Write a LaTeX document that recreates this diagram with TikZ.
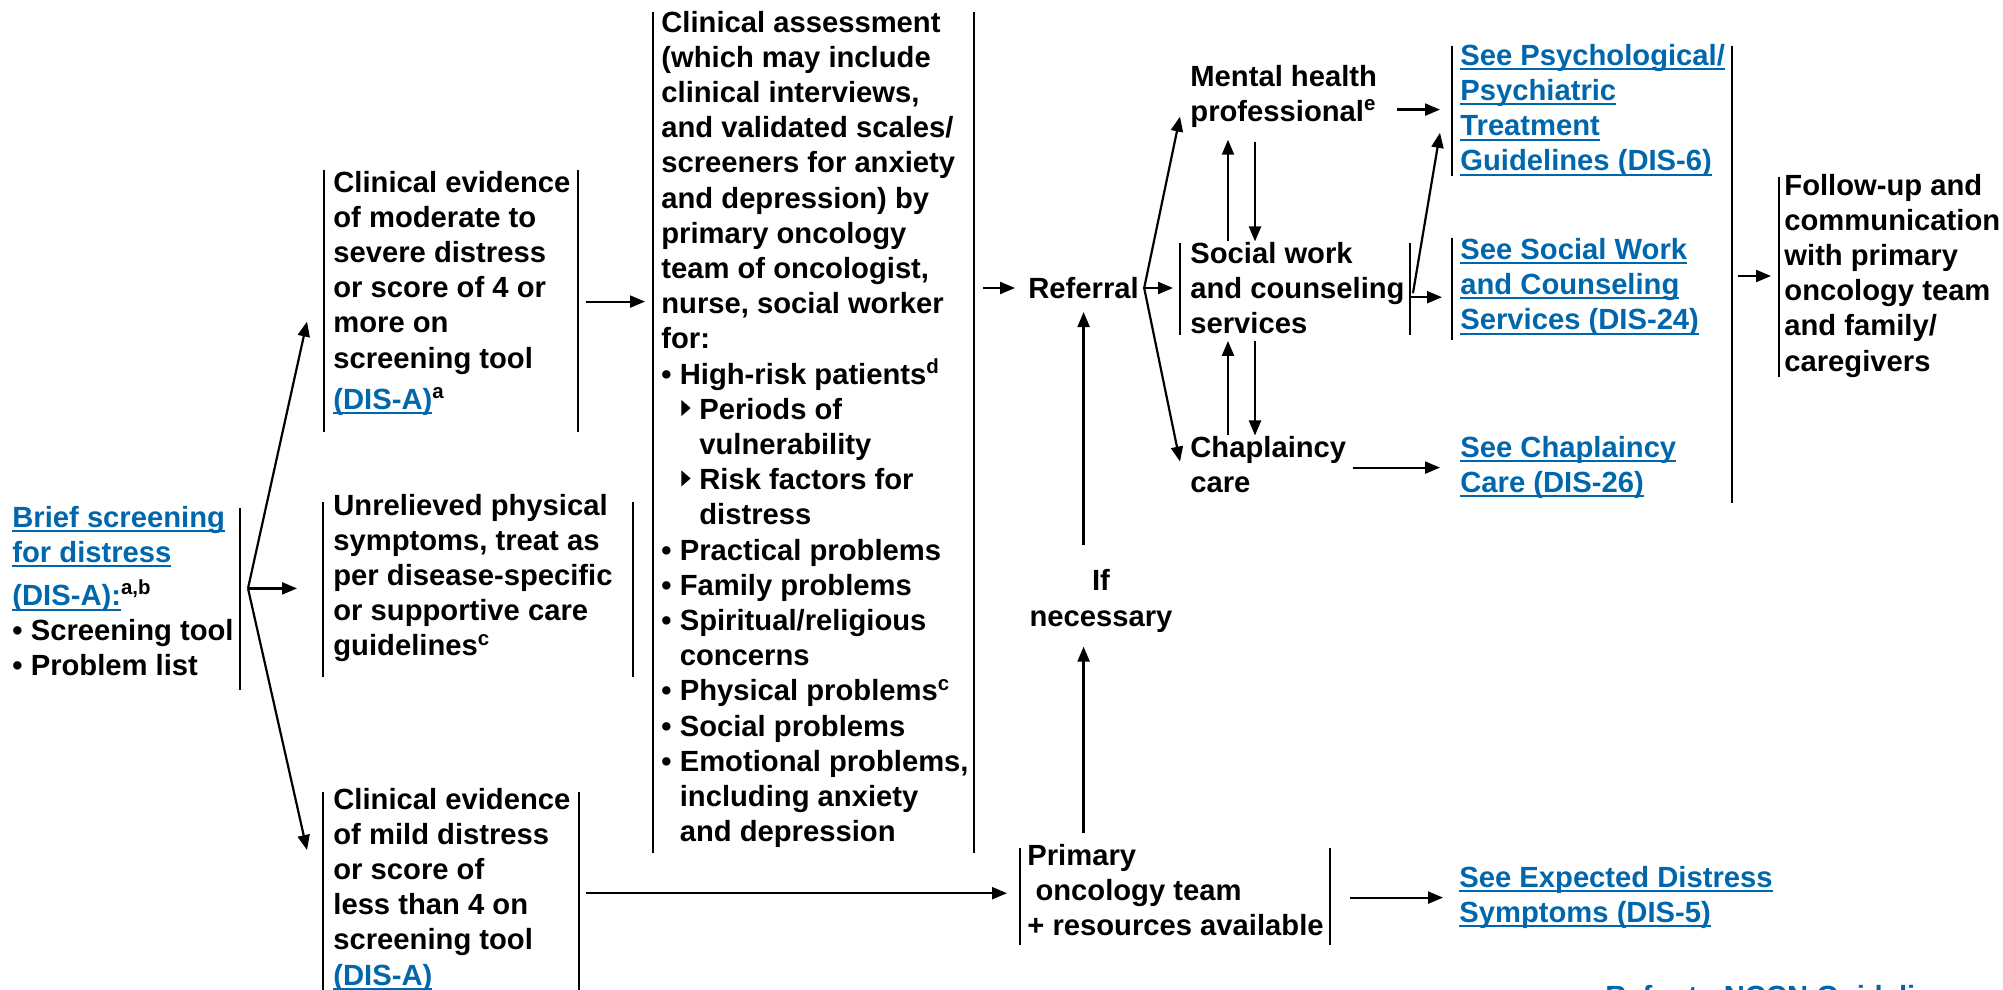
\documentclass[tikz,border=0pt]{standalone}
\usepackage{fontspec}
\setmainfont{Liberation Sans}
\usetikzlibrary{arrows.meta}
\usetikzlibrary{calc}

\definecolor{linkblue}{RGB}{0,103,172}
\newsavebox{\lnkbox}
\newsavebox{\tribox}
\newcommand{\lnk}[1]{\textcolor{linkblue}{\sbox{\lnkbox}{#1}\rlap{\rule[-2.6pt]{\wd\lnkbox}{1pt}}\usebox{\lnkbox}}}
\newcommand{\bstrut}{\rule[-3.55pt]{0pt}{17.6pt}}
\newcommand{\bul}{\makebox[9.2pt][l]{\textbullet}}
\newcommand{\tri}{\makebox[19pt][l]{\hspace{10pt}\raisebox{1.6pt}{\usebox{\tribox}}}}
\newcommand{\ina}{\hspace*{9.2pt}}
\newcommand{\inb}{\hspace*{19pt}}

\begin{document}
\sbox{\tribox}{\begin{pgfpicture}\pgfpathmoveto{\pgfpoint{0pt}{0pt}}\pgfpathlineto{\pgfpoint{4.6pt}{4pt}}\pgfpathlineto{\pgfpoint{0pt}{8pt}}\pgfpathclose\pgfusepath{fill}\end{pgfpicture}}
\begin{tikzpicture}[x=0.5pt, y=-0.5pt,
  txt/.style={align=left, anchor=west, inner sep=0pt,
    font=\bfseries\fontsize{14.6}{17.6}\selectfont,
    execute at begin node=\bstrut, execute at end node=\bstrut},
  bar/.style={line width=1.4pt},
  arr/.style={line width=1.1pt, >={Triangle[length=7.5pt,width=6pt]}, ->}]
\useasboundingbox (0,0) rectangle (2003,990);

% screening and the three outcomes
\node[txt] (screen) at (12,594.4) {\lnk{Brief screening}\\\lnk{for distress}\\[4pt]\lnk{(DIS-A):}\textsuperscript{a,b}\\\bul Screening tool\\\bul Problem list};
\node[txt] (mod) at (333,293.6) {Clinical evidence\\of moderate to\\severe distress\\or score of 4 or\\more on\\screening tool\\[3pt]\lnk{(DIS-A)}\textsuperscript{a}};
\node[txt] (phys) at (333,578.4) {Unrelieved physical\\symptoms, treat as\\per disease-specific\\or supportive care\\guidelines\textsuperscript{c}};
\node[txt] (mild) at (333,890) {Clinical evidence\\of mild distress\\or score of\\less than 4 on\\screening tool\\\lnk{(DIS-A)}};

\node[txt] (assess) at (661,429.8) {Clinical assessment\\(which may include\\clinical interviews,\\and validated scales/\\screeners for anxiety\\and depression) by\\primary oncology\\team of oncologist,\\nurse, social worker\\for:\\\bul High-risk patients\textsuperscript{d}\\\tri Periods of\\\inb vulnerability\\\tri Risk factors for\\\inb distress\\\bul Practical problems\\\bul Family problems\\\bul Spiritual/religious\\\ina concerns\\\bul Physical problems\textsuperscript{c}\\\bul Social problems\\\bul Emotional problems,\\\ina including anxiety\\\ina and depression};

% referral and services
\node[txt] (referral) at (1028,288) {Referral};
\node[txt] (mental) at (1190,96.6) {Mental health\\professional\textsuperscript{e}};
\node[txt] (social) at (1190,291.2) {Social work\\and counseling\\services};
\node[txt] (chap) at (1190,467.6) {Chaplaincy\\care};
\node[txt] (psych) at (1460,110.8) {\lnk{See Psychological/}\\\lnk{Psychiatric}\\\lnk{Treatment}\\\lnk{Guidelines (DIS-6)}};
\node[txt] (swlink) at (1460,287.2) {\lnk{See Social Work}\\\lnk{and Counseling}\\\lnk{Services (DIS-24)}};
\node[txt] (chlink) at (1460,467.6) {\lnk{See Chaplaincy}\\\lnk{Care (DIS-26)}};
\node[txt] (follow) at (1784,276) {Follow-up and\\communication\\with primary\\oncology team\\and family/\\caregivers};

% primary team
\node[txt, align=center, anchor=center] (ifnec) at (1101,601.5) {If\\necessary};
\node[txt] (primary) at (1027,893.2) {Primary\\\hspace*{0.278em}oncology team\\+ resources available};
\node[txt] (expected) at (1459,897.6) {\lnk{See Expected Distress}\\\lnk{Symptoms (DIS-5)}};
\node[txt] (nccn) at (1605,995.5) {\lnk{Refer to NCCN Guidelines}};

% side bars
\foreach \x/\ya/\yb in {240/508/690, 324/170/432, 578/170/432, 323/502/677, 633/502/677,
  323/792/1000, 579/792/1000, 653/12/853, 974/12/853, 1180/243/335, 1410/243/335,
  1452/46/176, 1452/238/340, 1779/177/377, 1020/848/945, 1330/848/945}
  \draw[bar] (\x,\ya) -- (\x,\yb);
\draw[bar] (1732,46) coordinate (outbar) -- (1732,503);

% arrows
\coordinate (fanA) at ([shift={(14,-6)}]screen.east);
\draw[arr] (fanA) -- ([shift={(-26,28)}]mod.west);
\draw[arr, shorten >=18pt] (fanA) -- (fanA -| phys.west);
\draw[arr] (fanA) -- ([shift={(-26,-40)}]mild.west);

\coordinate (modout) at ([shift={(15,8)}]mod.east);
\draw[arr, shorten >=8pt] (modout) -- (modout -| assess.west);
\draw[arr, shorten <=7.5pt, shorten >=10pt] (mild.east |- primary.west) -- (primary.west);
\draw[arr, shorten <=7pt, shorten >=6.5pt] (assess.east |- referral.west) -- (referral.west);

\draw[arr, shorten <=5pt, shorten >=6.5pt] (referral.south |- primary.north) -- (referral.south |- ifnec.south);
\draw[arr, shorten <=12pt, shorten >=3pt] (referral.south |- ifnec.north) -- (referral.south);

\coordinate (fanB) at ([shift={(5,0)}]referral.east);
\draw[arr] (fanB) -- ([shift={(-10,20)}]mental.west);
\draw[arr, shorten >=8.5pt] (fanB) -- (fanB -| social.west);
\draw[arr] (fanB) -- ([shift={(-10,-6)}]chap.west);

\draw[arr, shorten >=5.5pt] ([shift={(38,0)}]social.north west) -- ([shift={(38,0)}]mental.south west);
\draw[arr, shorten <=6.5pt] ([shift={(65,0)}]mental.south west) -- ([shift={(65,0)}]social.north west);
\draw[arr] ([shift={(38,0)}]chap.north west) -- ([shift={(38,0)}]social.south west);
\draw[arr] ([shift={(65,0)}]social.south west) -- ([shift={(65,0)}]chap.north west);

\coordinate (mentout) at ([shift={(20,13)}]mental.east);
\draw[arr, shorten >=10pt] (mentout) -- (mentout -| psych.west);
\coordinate (socout) at ([shift={(6,6)}]social.east);
\draw[arr, shorten >=9pt] (socout) -- (socout -| swlink.west);
\draw[arr] ([shift={(8,2)}]social.east) -- ([shift={(-20,22)}]psych.west);
\draw[arr, shorten <=3pt, shorten >=10pt] (chap.east |- chlink.west) -- (chlink.west);
\draw[arr, shorten <=13pt, shorten >=8pt] (primary.east |- expected.west) -- (expected.west);
\draw[arr, shorten <=3pt, shorten >=6.5pt] (outbar |- follow.west) -- (follow.west);
\end{tikzpicture}
\end{document}
